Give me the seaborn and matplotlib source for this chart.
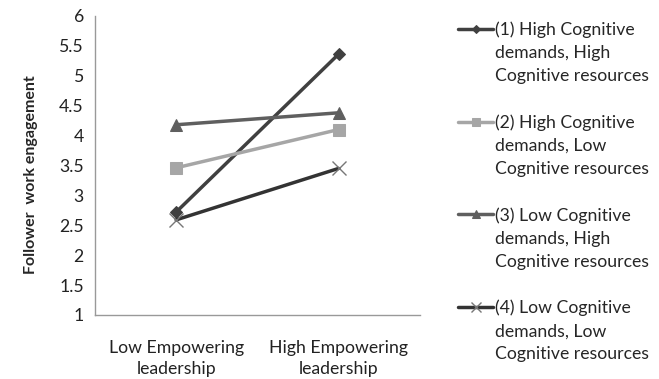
import seaborn as sns
import pandas as pd
import matplotlib.pyplot as plt
from matplotlib.lines import Line2D
from matplotlib.ticker import FixedLocator, NullFormatter

# Data
conditions = ["Low Empowering\nleadership", "High Empowering\nleadership"]
series_names = ["(1) High Cognitive\ndemands, High\nCognitive resources",
                "(2) High Cognitive\ndemands, Low\nCognitive resources",
                "(3) Low Cognitive\ndemands, High\nCognitive resources",
                "(4) Low Cognitive\ndemands, Low\nCognitive resources"]
s1 = [2.72, 5.36]
s2 = [3.46, 4.10]
s3 = [4.18, 4.38]
s4 = [2.59, 3.45]

rows = []
for name, vals in zip(series_names, [s1, s2, s3, s4]):
    for i, v in enumerate(vals):
        rows.append({"x": i, "y": v, "series": name})
df = pd.DataFrame(rows)

sns.set_style("white")
plt.rcParams["font.family"] = ["Lato", "DejaVu Sans"]
fs = 12.7

fig = plt.figure(figsize=(6.59, 3.79), dpi=100)
ax = fig.add_axes([0.144, 0.169, 0.493, 0.789])

line_colors = ["#404040", "#a6a6a6", "#5f5f5f", "#333333"]
markers = ["D", "s", "^", "x"]
msizes = [6, 8, 9, 10]
for name, c, m, ms in zip(series_names, line_colors, markers, msizes):
    sub = df[df["series"] == name]
    kw = dict(marker=m, markersize=ms, color=c, linewidth=2.5, label=name)
    if m == "x":
        kw.update(markeredgecolor="#777777", markeredgewidth=1.0)
    else:
        kw.update(markeredgecolor=c)
    sns.lineplot(data=sub, x="x", y="y", ax=ax, **kw)

ax.set_xlim(-0.5, 1.5)
ax.set_ylim(1, 6)
ax.set_yticks([1, 1.5, 2, 2.5, 3, 3.5, 4, 4.5, 5, 5.5, 6])
ax.set_yticklabels(["1", "1.5", "2", "2.5", "3", "3.5", "4", "4.5", "5", "5.5", "6"])
ax.set_xticks([0, 1])
ax.set_xticklabels(conditions, linespacing=1.4)
ax.xaxis.set_minor_locator(FixedLocator([-0.5, 0.5, 1.5]))
ax.xaxis.set_minor_formatter(NullFormatter())
ax.tick_params(axis="x", which="major", length=0, pad=18, labelsize=fs, colors="#222222")
ax.tick_params(axis="x", which="minor", length=5, width=1, color="#999999", direction="out")
ax.tick_params(axis="y", length=5, width=1, color="#999999", direction="out", labelsize=fs,
               labelcolor="#222222", pad=3)
ax.set_xlabel("")
ax.set_ylabel("Follower  work engagement", fontsize=11.5, fontweight="bold")
ax.yaxis.set_label_coords(-0.175, 0.47)
sns.despine(ax=ax)
for sp in ["left", "bottom"]:
    ax.spines[sp].set_color("#999999")
    ax.spines[sp].set_linewidth(1)

leg = ax.get_legend()
if leg is not None:
    leg.remove()

# legend: one row per text line, handle on the first line of each entry
handles, labels = ax.get_legend_handles_labels()
blank = Line2D([], [], linestyle="none")
leg_h, leg_l = [], []
for h, lab in zip(handles, labels):
    parts = lab.split("\n") + [" "]
    for j, p in enumerate(parts):
        leg_h.append(h if j == 0 else blank)
        leg_l.append(p)
fig.legend(leg_h, leg_l, loc="upper left", bbox_to_anchor=(0.685, 0.962), frameon=False,
           fontsize=fs, labelspacing=0.40, handlelength=1.95, handletextpad=0.1,
           markerscale=0.7, borderaxespad=0)

fig.savefig("out.png", dpi=100)
